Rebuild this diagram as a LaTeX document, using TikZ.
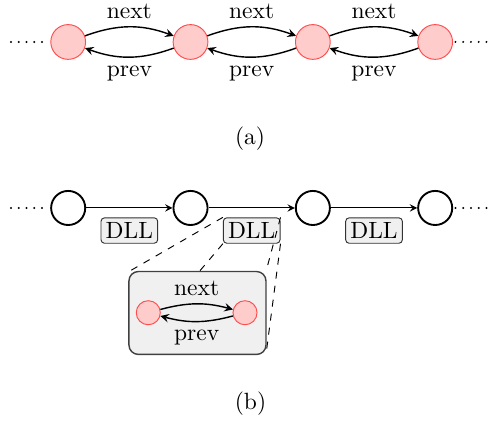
\documentclass[tikz,border=0pt]{standalone}
\usepackage{tikz}
\usetikzlibrary{arrows,positioning}
\tikzset{
	elem/.style={circle, draw=red!70, fill=red!20, minimum size=0.52cm, inner sep=0},
	smallelem/.style={circle, draw=red!70, fill=red!20, minimum size=0.36cm, inner sep=0},
	block/.style={circle, draw=black, thick, minimum size=0.51cm, inner sep=0},
	dll/.style={draw=black!80, fill=black!6, rounded corners=1.5pt, inner sep=2pt},
	lensbox/.style={draw=black!75, fill=black!6, semithick, rounded corners=4pt},
	link/.style={-stealth, semithick},
	dotline/.style={line width=0.95pt, line cap=round, dash pattern=on 0pt off 3.3pt},
}

\begin{document}
\begin{tikzpicture}
		%%%%% START %%%%%
		\useasboundingbox (0, 0) rectangle (7.30, -6.373);
		
		% (a) doubly linked list
		\node[elem] (a1) at (1.02, -0.628) {};
		\node[elem] (a2) at (2.85, -0.628) {};
		\node[elem] (a3) at (4.68, -0.628) {};
		\node[elem] (a4) at (6.51, -0.628) {};
		\coordinate (aL) at (0.165, -0.628);
		\coordinate (aR) at (7.29, -0.628);
		
		\draw[dotline, shorten >=3pt] (aL) -- (a1);
		\draw[dotline, shorten <=1pt] (a4) -- (aR);
		
		\draw[link] (a1) to[bend left=20] node[above] {next} (a2);
		\draw[link] (a2) to[bend left=20] node[below] {prev} (a1);
		\draw[link] (a2) to[bend left=20] node[above] {next} (a3);
		\draw[link] (a3) to[bend left=20] node[below] {prev} (a2);
		\draw[link] (a3) to[bend left=20] node[above] {next} (a4);
		\draw[link] (a4) to[bend left=20] node[below] {prev} (a3);
		
		\node (capa) at (3.74, -2.072) {(a)};
		
		% (b) list of blocks
		\node[block] (b1) at (1.02, -3.111) {};
		\node[block] (b2) at (2.85, -3.111) {};
		\node[block] (b3) at (4.68, -3.111) {};
		\node[block] (b4) at (6.51, -3.111) {};
		\coordinate (bL) at (0.165, -3.111);
		\coordinate (bR) at (7.29, -3.111);
		
		\draw[dotline, shorten >=3pt] (bL) -- (b1);
		\draw[dotline, shorten <=1pt] (b4) -- (bR);
		
		\draw[-stealth] (b1) -- node[dll, below=4pt] (dll1) {DLL} (b2);
		\draw[-stealth] (b2) -- node[dll, below=4pt] (dll2) {DLL} (b3);
		\draw[-stealth] (b3) -- node[dll, below=4pt] (dll3) {DLL} (b4);
		
		% zoom into the middle block
		\node[minimum width=2.05cm, minimum height=1.24cm, outer sep=0] (lens) at (2.954, -4.682) {};
		\draw[dashed] (dll2.north west) -- (lens.north west);
		\draw[dashed, shorten >=2pt] (dll2.south west) -- (lens.south west);
		\draw[dashed] (dll2.north east) -- (lens.north east);
		\draw[dashed, shorten >=2pt] (dll2.south east) -- (lens.south east);
		\draw[lensbox] (lens.south west) rectangle (lens.north east);
		
		\node[smallelem] (in1) at (2.218, -4.678) {};
		\node[smallelem] (in2) at (3.665, -4.678) {};
		\draw[link] (in1) to[bend left=15] node[above] {next} (in2);
		\draw[link] (in2) to[bend left=15] node[below] {prev} (in1);
		
		\node (capb) at (3.747, -6.043) {(b)};
		%%%%% END %%%%%
\end{tikzpicture}
\end{document}
